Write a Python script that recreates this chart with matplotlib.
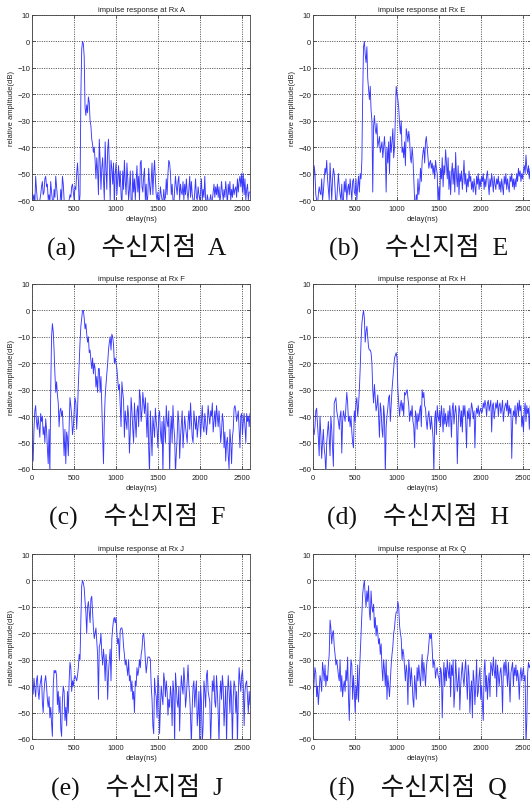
import numpy as np
import matplotlib
matplotlib.use("Agg")
import matplotlib.pyplot as plt

# Delay axis sampling (ns) and receiver labels
step_ns = 10
receivers = ["A", "E", "F", "H", "J", "Q"]
panel_tags = ["a", "b", "c", "d", "e", "f"]

# Relative amplitude (dB) of the impulse response at each receiver,
# one row per 200 ns (10 ns steps), last value at 2600 ns
rx_a = [
    -57, -60, -58, -62, -51, -56, -60, -64, -62, -60, -58, -55, -53, -58, -57, -52, -51, -55, -54, -60,
    -58, -61, -53, -57, -60, -64, -56, -59, -51, -55, -59, -63, -65, -62, -56, -60, -51, -54, -60, -63,
    -65, -66, -64, -62, -60, -58, -59, -55, -54, -57, -60, -55, -56, -50, -46, -52, -62, -58, -20, -3,
    0, -1, -6, -25, -28, -24, -27, -21, -23, -30, -32, -37, -39, -42, -40, -45, -52, -44, -49, -58,
    -37, -45, -56, -48, -44, -52, -60, -38, -48, -56, -41, -37, -47, -60, -45, -48, -54, -46, -62, -50,
    -46, -58, -52, -47, -55, -49, -58, -62, -49, -56, -45, -53, -58, -46, -52, -60, -56, -49, -60, -64,
    -49, -57, -52, -60, -53, -47, -57, -51, -60, -46, -45, -55, -57, -51, -48, -60, -54, -62, -58, -48,
    -54, -58, -53, -46, -58, -50, -45, -52, -58, -60, -57, -62, -60, -55, -58, -60, -61, -56, -60, -59,
    -52, -58, -50, -45, -46, -50, -58, -54, -60, -62, -56, -51, -55, -58, -53, -51, -60, -54, -57, -58,
    -53, -60, -54, -58, -52, -57, -60, -56, -51, -59, -53, -58, -60, -62, -57, -52, -59, -60, -55, -58,
    -60, -57, -52, -60, -56, -59, -51, -60, -62, -58, -60, -63, -60, -58, -61, -60, -57, -54, -59, -55,
    -58, -54, -59, -55, -61, -58, -53, -57, -60, -56, -59, -53, -57, -62, -54, -58, -53, -60, -56, -59,
    -54, -58, -56, -55, -59, -52, -57, -53, -51, -55, -50, -57, -50, -58, -52, -60, -56, -54, -60, -57,
    -57]

rx_e = [
    -55, -47, -50, -58, -60, -62, -58, -55, -57, -58, -52, -60, -57, -52, -48, -50, -45, -52, -56, -60,
    -46, -53, -60, -52, -48, -50, -56, -62, -60, -55, -50, -55, -58, -60, -54, -62, -60, -53, -57, -52,
    -60, -56, -54, -58, -52, -56, -60, -53, -52, -57, -58, -52, -60, -55, -51, -57, -50, -52, -45, -20,
    -2, 0, -5, -8, -2, -14, -18, -22, -17, -26, -30, -57, -32, -28, -33, -35, -31, -40, -38, -36,
    -42, -40, -38, -44, -40, -36, -42, -57, -40, -46, -38, -50, -36, -42, -38, -33, -44, -40, -28, -17,
    -20, -22, -25, -31, -35, -30, -42, -40, -44, -38, -47, -33, -35, -38, -34, -37, -44, -46, -40, -44,
    -52, -60, -62, -58, -60, -52, -58, -55, -48, -53, -45, -42, -40, -46, -38, -36, -40, -44, -48, -46,
    -45, -48, -46, -50, -47, -52, -45, -48, -50, -62, -55, -60, -48, -52, -44, -55, -47, -50, -41, -46,
    -52, -44, -56, -49, -58, -50, -46, -54, -48, -57, -42, -51, -55, -47, -58, -50, -53, -49, -56, -51,
    -45, -54, -50, -57, -52, -55, -49, -53, -51, -56, -53, -57, -52, -55, -58, -51, -54, -50, -56, -52,
    -55, -51, -53, -50, -56, -52, -55, -51, -49, -54, -58, -52, -55, -50, -53, -57, -51, -54, -56, -52,
    -54, -51, -56, -53, -57, -52, -55, -58, -51, -54, -50, -56, -52, -55, -57, -51, -53, -50, -55, -52,
    -56, -52, -55, -50, -53, -48, -51, -49, -53, -50, -52, -49, -47, -50, -43, -48, -50, -47, -52, -48,
    -49]

rx_f = [
    -50, -57, -45, -38, -36, -42, -45, -40, -44, -48, -39, -42, -40, -47, -44, -50, -41, -45, -52, -58,
    -45, -62, -30, -10, -5, -8, -15, -24, -31, -27, -32, -35, -44, -38, -37, -40, -38, -47, -55, -45,
    -58, -46, -48, -55, -44, -33, -36, -40, -47, -44, -38, -33, -35, -45, -38, -28, -20, -12, -6, -3,
    0, 0, -3, -7, -5, -9, -12, -10, -16, -15, -19, -22, -18, -24, -20, -22, -29, -25, -31, -22,
    -22, -31, -25, -36, -48, -58, -42, -33, -28, -24, -20, -15, -12, -10, -15, -9, -10, -13, -20, -18,
    -20, -22, -26, -30, -28, -36, -44, -27, -31, -34, -48, -38, -42, -45, -36, -40, -54, -46, -33, -38,
    -45, -50, -35, -42, -48, -38, -36, -44, -30, -33, -42, -38, -31, -35, -39, -33, -40, -48, -35, -52,
    -62, -38, -46, -55, -40, -44, -48, -37, -42, -45, -52, -40, -38, -46, -50, -42, -62, -40, -45, -50,
    -36, -42, -44, -38, -62, -46, -40, -50, -36, -44, -48, -62, -54, -48, -38, -42, -56, -48, -43, -38,
    -52, -46, -40, -44, -47, -50, -42, -38, -45, -35, -42, -48, -50, -38, -42, -45, -40, -48, -44, -40,
    -40, -48, -42, -36, -44, -46, -39, -42, -47, -43, -36, -40, -43, -38, -40, -35, -46, -42, -38, -44,
    -36, -40, -44, -38, -43, -50, -46, -39, -42, -52, -46, -57, -50, -48, -55, -60, -45, -50, -58, -48,
    -45, -37, -36, -38, -42, -40, -38, -45, -52, -40, -39, -47, -42, -39, -44, -50, -39, -42, -40, -44,
    -39]

rx_h = [
    -45, -47, -44, -38, -37, -43, -48, -55, -40, -47, -56, -50, -45, -52, -55, -62, -50, -46, -42, -48,
    -55, -40, -45, -52, -59, -35, -34, -33, -38, -40, -42, -45, -40, -38, -54, -42, -38, -40, -42, -36,
    -31, -35, -42, -40, -44, -40, -46, -50, -52, -38, -42, -35, -33, -40, -36, -30, -22, -12, -5, -2,
    0, -3, -12, -8, -6, -10, -14, -15, -15, -16, -20, -30, -35, -28, -33, -38, -36, -32, -40, -48,
    -35, -38, -45, -48, -36, -40, -62, -44, -40, -37, -33, -32, -42, -36, -30, -26, -22, -18, -17, -16,
    -18, -30, -35, -40, -36, -34, -38, -35, -40, -31, -32, -31, -30, -33, -36, -42, -38, -40, -36, -42,
    -44, -52, -38, -40, -45, -39, -42, -38, -36, -44, -30, -33, -31, -36, -37, -42, -45, -40, -38, -42,
    -45, -40, -44, -48, -62, -41, -38, -47, -36, -40, -42, -38, -44, -36, -40, -46, -37, -43, -39, -44,
    -42, -38, -44, -36, -40, -48, -37, -35, -43, -39, -36, -40, -58, -44, -36, -38, -44, -38, -46, -36,
    -40, -36, -42, -52, -38, -41, -37, -44, -39, -35, -37, -41, -38, -52, -40, -37, -39, -36, -40, -38,
    -37, -39, -38, -35, -37, -34, -36, -40, -35, -34, -38, -36, -34, -46, -36, -35, -41, -38, -35, -37,
    -34, -40, -36, -35, -39, -37, -34, -42, -38, -36, -35, -38, -34, -40, -36, -39, -37, -56, -42, -38,
    -40, -36, -43, -38, -35, -40, -34, -38, -36, -44, -40, -46, -38, -35, -42, -36, -39, -37, -45, -36,
    -54]

rx_j = [
    -40, -43, -37, -41, -44, -38, -36, -42, -45, -40, -38, -36, -46, -50, -42, -38, -36, -40, -45, -48,
    -44, -52, -48, -54, -59, -40, -34, -35, -34, -36, -47, -42, -50, -44, -56, -59, -45, -40, -42, -53,
    -48, -55, -42, -50, -38, -31, -33, -42, -38, -40, -37, -36, -37, -38, -36, -33, -28, -30, -15, -2,
    0, -1, -3, -8, -12, -20, -10, -8, -12, -16, -7, -6, -12, -18, -22, -20, -18, -23, -28, -45,
    -25, -24, -20, -28, -32, -26, -30, -38, -28, -32, -45, -35, -30, -26, -38, -22, -18, -15, -14, -16,
    -14, -20, -24, -22, -30, -19, -18, -18, -20, -25, -28, -32, -30, -33, -36, -30, -38, -36, -42, -38,
    -45, -42, -50, -38, -40, -33, -36, -34, -30, -33, -28, -26, -21, -20, -24, -30, -35, -32, -29, -29,
    -29, -30, -40, -45, -55, -58, -37, -42, -44, -52, -36, -40, -58, -48, -40, -44, -47, -35, -38, -44,
    -38, -42, -51, -45, -48, -40, -44, -55, -38, -42, -62, -35, -40, -46, -48, -40, -57, -44, -36, -40,
    -43, -33, -38, -48, -44, -38, -32, -40, -44, -52, -62, -48, -40, -38, -48, -42, -38, -55, -50, -42,
    -62, -40, -46, -62, -55, -38, -42, -48, -36, -34, -42, -44, -46, -62, -50, -38, -42, -36, -46, -48,
    -36, -42, -50, -62, -44, -38, -45, -36, -40, -55, -48, -40, -62, -44, -36, -42, -50, -38, -45, -62,
    -44, -38, -40, -50, -42, -62, -44, -33, -38, -42, -36, -34, -40, -55, -42, -39, -38, -44, -50, -42,
    -47]

rx_q = [
    -43, -38, -33, -35, -44, -40, -47, -42, -36, -38, -42, -31, -34, -38, -32, -40, -36, -38, -32, -28,
    -15, -18, -24, -20, -19, -25, -28, -32, -30, -33, -36, -38, -30, -42, -36, -44, -40, -38, -42, -34,
    -38, -29, -44, -53, -38, -30, -32, -45, -36, -42, -50, -40, -45, -32, -46, -36, -28, -20, -12, -5,
    -2, 0, -6, -10, -4, -8, -2, -12, -15, -4, -10, -12, -9, -18, -14, -21, -17, -20, -24, -22,
    -28, -24, -33, -38, -30, -34, -40, -30, -45, -36, -40, -44, -38, -32, -28, -25, -20, -18, -14, -12,
    -12, -8, -10, -17, -20, -22, -30, -26, -28, -33, -38, -32, -35, -47, -30, -34, -40, -33, -38, -45,
    -48, -36, -40, -45, -33, -38, -32, -36, -40, -34, -28, -38, -31, -35, -40, -33, -30, -28, -24, -20,
    -22, -20, -26, -33, -30, -32, -37, -34, -33, -36, -37, -40, -33, -35, -52, -38, -31, -40, -33, -38,
    -30, -34, -37, -31, -44, -32, -36, -30, -48, -42, -30, -36, -42, -38, -33, -49, -40, -35, -31, -37,
    -40, -34, -30, -38, -45, -32, -36, -50, -42, -38, -52, -34, -38, -47, -40, -30, -44, -42, -36, -33,
    -45, -40, -47, -53, -34, -30, -42, -36, -45, -38, -35, -44, -31, -33, -36, -29, -34, -37, -30, -44,
    -32, -36, -40, -35, -33, -38, -50, -33, -31, -36, -30, -35, -40, -31, -38, -46, -35, -33, -31, -40,
    -33, -36, -32, -38, -34, -37, -45, -36, -33, -38, -35, -33, -38, -36, -62, -53, -35, -31, -33, -32,
    -31]

series = [rx_a, rx_e, rx_f, rx_h, rx_j, rx_q]

x_ticks = [0, 500, 1000, 1500, 2000, 2500]
y_ticks = [-60, -50, -40, -30, -20, -10, 0, 10]

W, H = 530, 803
fig = plt.figure(figsize=(W / 100, H / 100), dpi=100)

col_left = [32.3, 313.3]
ax_w = 217.7
row_top = [16, 285, 555]
ax_h = 185
caption_y = [247, 516, 787]

label_font = ["Liberation Sans", "DejaVu Sans"]
caption_font = ["Liberation Serif", "Noto Sans CJK KR"]

for i, (rx, tag, y) in enumerate(zip(receivers, panel_tags, series)):
    r, c = divmod(i, 2)
    left = col_left[c] / W
    bottom = 1 - (row_top[r] + ax_h) / H
    ax = fig.add_axes([left, bottom, ax_w / W, ax_h / H])
    x = np.arange(len(y)) * step_ns
    ax.plot(x, y, color="#3838ff", lw=0.65)
    ax.set_xlim(0, 2600)
    ax.set_ylim(-60, 10)
    ax.set_xticks(x_ticks)
    ax.set_yticks(y_ticks)
    ax.grid(True, color="#333333", linestyle=(0, (1.2, 1.6)), linewidth=0.6)
    ax.tick_params(direction="in", length=2, width=0.5, labelsize=5.5,
                   top=True, right=True, pad=1.5, colors="#222222")
    ax.tick_params(axis="x", pad=3.5)
    for lab in ax.get_xticklabels() + ax.get_yticklabels():
        lab.set_family(label_font)
    for sp in ax.spines.values():
        sp.set_linewidth(0.6)
        sp.set_color("#444444")
    ax.set_title(f"impulse response at Rx {rx}", fontsize=5.5, family=label_font,
                 pad=3, color="#222222")
    ax.set_xlabel("delay(ns)", fontsize=5.5, family=label_font, labelpad=2, color="#222222")
    ax.set_ylabel("relative amplitude(dB)", fontsize=5.5, family=label_font, labelpad=1.5,
                  color="#222222")
    cx = (col_left[c] + ax_w / 2 - 4) / W
    fig.text(cx, 1 - caption_y[r] / H, f"({tag})    수신지점  {rx}", ha="center", va="center",
             fontsize=18.5, family=caption_font, color="#111111")

fig.savefig("out.png", dpi=100, facecolor="white")
